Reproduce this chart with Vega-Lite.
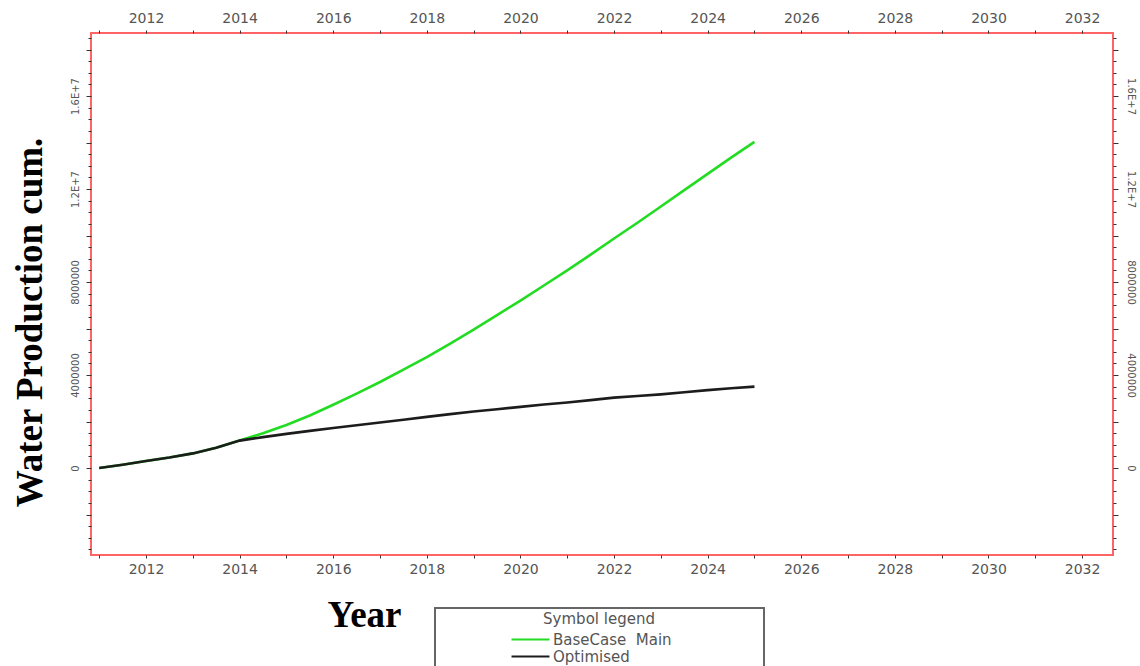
{
  "$schema": "https://vega.github.io/schema/vega-lite/v6.json",
  "autosize": {"type": "none"},
  "padding": {"left": 91, "top": 33, "right": 27, "bottom": 111},
  "width": 1022,
  "height": 522,
  "background": "white",
  "config": {
    "view": {"stroke": "#ff6464", "strokeWidth": 2},
    "axis": {"grid": false, "domain": false, "tickColor": "#333333", "tickWidth": 1, "labelColor": "#555555", "labelFont": "DejaVu Sans", "labelOverlap": false, "labelFlush": false}
  },
  "data": {
    "values": [
      {"year": 2011.0, "wpt": 0, "series": "BaseCase\u00a0 Main"},
      {"year": 2011.5, "wpt": 140000, "series": "BaseCase\u00a0 Main"},
      {"year": 2012.0, "wpt": 300000, "series": "BaseCase\u00a0 Main"},
      {"year": 2012.5, "wpt": 450000, "series": "BaseCase\u00a0 Main"},
      {"year": 2013.0, "wpt": 630000, "series": "BaseCase\u00a0 Main"},
      {"year": 2013.5, "wpt": 870000, "series": "BaseCase\u00a0 Main"},
      {"year": 2014.0, "wpt": 1180000, "series": "BaseCase\u00a0 Main"},
      {"year": 2014.5, "wpt": 1500000, "series": "BaseCase\u00a0 Main"},
      {"year": 2015.0, "wpt": 1850000, "series": "BaseCase\u00a0 Main"},
      {"year": 2015.5, "wpt": 2260000, "series": "BaseCase\u00a0 Main"},
      {"year": 2016.0, "wpt": 2720000, "series": "BaseCase\u00a0 Main"},
      {"year": 2016.5, "wpt": 3200000, "series": "BaseCase\u00a0 Main"},
      {"year": 2017.0, "wpt": 3700000, "series": "BaseCase\u00a0 Main"},
      {"year": 2017.5, "wpt": 4230000, "series": "BaseCase\u00a0 Main"},
      {"year": 2018.0, "wpt": 4770000, "series": "BaseCase\u00a0 Main"},
      {"year": 2018.5, "wpt": 5350000, "series": "BaseCase\u00a0 Main"},
      {"year": 2019.0, "wpt": 5950000, "series": "BaseCase\u00a0 Main"},
      {"year": 2019.5, "wpt": 6580000, "series": "BaseCase\u00a0 Main"},
      {"year": 2020.0, "wpt": 7200000, "series": "BaseCase\u00a0 Main"},
      {"year": 2020.5, "wpt": 7850000, "series": "BaseCase\u00a0 Main"},
      {"year": 2021.0, "wpt": 8500000, "series": "BaseCase\u00a0 Main"},
      {"year": 2021.5, "wpt": 9180000, "series": "BaseCase\u00a0 Main"},
      {"year": 2022.0, "wpt": 9870000, "series": "BaseCase\u00a0 Main"},
      {"year": 2022.5, "wpt": 10550000, "series": "BaseCase\u00a0 Main"},
      {"year": 2023.0, "wpt": 11250000, "series": "BaseCase\u00a0 Main"},
      {"year": 2023.5, "wpt": 11950000, "series": "BaseCase\u00a0 Main"},
      {"year": 2024.0, "wpt": 12650000, "series": "BaseCase\u00a0 Main"},
      {"year": 2024.5, "wpt": 13350000, "series": "BaseCase\u00a0 Main"},
      {"year": 2025.0, "wpt": 14030000, "series": "BaseCase\u00a0 Main"},
      {"year": 2011.0, "wpt": 0, "series": "Optimised"},
      {"year": 2011.5, "wpt": 140000, "series": "Optimised"},
      {"year": 2012.0, "wpt": 300000, "series": "Optimised"},
      {"year": 2012.5, "wpt": 450000, "series": "Optimised"},
      {"year": 2013.0, "wpt": 630000, "series": "Optimised"},
      {"year": 2013.5, "wpt": 870000, "series": "Optimised"},
      {"year": 2014.0, "wpt": 1180000, "series": "Optimised"},
      {"year": 2014.5, "wpt": 1330000, "series": "Optimised"},
      {"year": 2015.0, "wpt": 1470000, "series": "Optimised"},
      {"year": 2015.5, "wpt": 1600000, "series": "Optimised"},
      {"year": 2016.0, "wpt": 1720000, "series": "Optimised"},
      {"year": 2016.5, "wpt": 1840000, "series": "Optimised"},
      {"year": 2017.0, "wpt": 1960000, "series": "Optimised"},
      {"year": 2017.5, "wpt": 2080000, "series": "Optimised"},
      {"year": 2018.0, "wpt": 2200000, "series": "Optimised"},
      {"year": 2018.5, "wpt": 2320000, "series": "Optimised"},
      {"year": 2019.0, "wpt": 2430000, "series": "Optimised"},
      {"year": 2019.5, "wpt": 2530000, "series": "Optimised"},
      {"year": 2020.0, "wpt": 2630000, "series": "Optimised"},
      {"year": 2020.5, "wpt": 2730000, "series": "Optimised"},
      {"year": 2021.0, "wpt": 2820000, "series": "Optimised"},
      {"year": 2021.5, "wpt": 2920000, "series": "Optimised"},
      {"year": 2022.0, "wpt": 3030000, "series": "Optimised"},
      {"year": 2022.5, "wpt": 3100000, "series": "Optimised"},
      {"year": 2023.0, "wpt": 3170000, "series": "Optimised"},
      {"year": 2023.5, "wpt": 3260000, "series": "Optimised"},
      {"year": 2024.0, "wpt": 3350000, "series": "Optimised"},
      {"year": 2024.5, "wpt": 3430000, "series": "Optimised"},
      {"year": 2025.0, "wpt": 3500000, "series": "Optimised"}
    ]
  },
  "resolve": {"axis": {"x": "independent", "y": "independent"}},
  "layer": [
    {
      "transform": [{"filter": "datum.series != 'Optimised'"}],
      "mark": {"type": "line", "strokeWidth": 2.6, "interpolate": "linear"},
      "encoding": {
        "x": {
          "field": "year", "type": "quantitative",
          "scale": {"domain": [2010.825, 2032.66], "nice": false, "zero": false},
          "axis": {
            "orient": "bottom",
            "values": [2011, 2012, 2013, 2014, 2015, 2016, 2017, 2018, 2019, 2020, 2021, 2022, 2023, 2024, 2025, 2026, 2027, 2028, 2029, 2030, 2031, 2032],
            "labelExpr": "datum.value % 2 == 0 ? format(datum.value, 'd') : ''",
            "tickSize": 3, "labelPadding": 4, "labelFontSize": 14,
            "title": "Year", "titleFont": "Liberation Serif", "titleFontSize": 37, "titleFontWeight": "bold", "titleColor": "#000000",
            "titleX": 273, "titleY": 71, "titleAlign": "center", "titleBaseline": "alphabetic", "titleAnchor": null
          }
        },
        "y": {
          "field": "wpt", "type": "quantitative",
          "scale": {"domain": [-3740000, 18710000], "nice": false, "zero": false},
          "axis": {
            "orient": "left",
            "values": [-3500000, -3000000, -2500000, -2000000, -1500000, -1000000, -500000, 0, 500000, 1000000, 1500000, 2000000, 2500000, 3000000, 3500000, 4000000, 4500000, 5000000, 5500000, 6000000, 6500000, 7000000, 7500000, 8000000, 8500000, 9000000, 9500000, 10000000, 10500000, 11000000, 11500000, 12000000, 12500000, 13000000, 13500000, 14000000, 14500000, 15000000, 15500000, 16000000, 16500000, 17000000, 17500000, 18000000, 18500000],
            "labelExpr": "datum.value == 0 ? '0' : datum.value == 4000000 ? '4000000' : datum.value == 8000000 ? '8000000' : datum.value == 12000000 ? '1.2E+7' : datum.value == 16000000 ? '1.6E+7' : ''",
            "tickSize": {"condition": {"test": "datum.value % 2000000 == 0", "value": 5}, "value": 3},
            "labelAngle": 270, "labelAlign": "center", "labelBaseline": "bottom", "labelPadding": 6, "labelFontSize": 10,
            "title": "Water Production cum.", "titleFont": "Liberation Serif", "titleFontSize": 37, "titleFontWeight": "bold", "titleColor": "#000000",
            "titleX": -61, "titleY": 289, "titleAngle": 270, "titleAlign": "center", "titleBaseline": "middle", "titleAnchor": null
          }
        },
        "color": {
          "field": "series", "type": "nominal",
          "scale": {"domain": ["BaseCase\u00a0 Main", "Optimised"], "range": ["#22dc22", "#1c1c1c"]},
          "legend": {
            "orient": "none", "legendX": 344, "legendY": 575,
            "title": "Symbol legend", "titleFont": "DejaVu Sans", "titleFontSize": 15, "titleFontWeight": "normal", "titleColor": "#555555", "titleAnchor": "middle", "titlePadding": 5,
            "labelFont": "DejaVu Sans", "labelFontSize": 15, "labelColor": "#555555", "labelOffset": 15,
            "symbolType": "M-4,0H4M47.5,0", "symbolSize": 90, "symbolStrokeWidth": 2, "symbolOffset": 84,
            "rowPadding": 1, "padding": 4,
            "strokeColor": "#666666", "fillColor": "#ffffff",
            "encode": {"legend": {"update": {"strokeWidth": {"value": 2}}}}
          }
        }
      }
    },
    {
      "transform": [{"filter": "datum.series == 'Optimised'"}],
      "mark": {"type": "line", "strokeWidth": 2.6, "interpolate": "linear"},
      "encoding": {
        "x": {
          "field": "year", "type": "quantitative",
          "axis": {
            "orient": "top",
            "values": [2011, 2012, 2013, 2014, 2015, 2016, 2017, 2018, 2019, 2020, 2021, 2022, 2023, 2024, 2025, 2026, 2027, 2028, 2029, 2030, 2031, 2032],
            "labelExpr": "datum.value % 2 == 0 ? format(datum.value, 'd') : ''",
            "tickSize": 3, "labelPadding": 5, "labelFontSize": 14, "title": null
          }
        },
        "y": {
          "field": "wpt", "type": "quantitative",
          "axis": {
            "orient": "right",
            "values": [-3500000, -3000000, -2500000, -2000000, -1500000, -1000000, -500000, 0, 500000, 1000000, 1500000, 2000000, 2500000, 3000000, 3500000, 4000000, 4500000, 5000000, 5500000, 6000000, 6500000, 7000000, 7500000, 8000000, 8500000, 9000000, 9500000, 10000000, 10500000, 11000000, 11500000, 12000000, 12500000, 13000000, 13500000, 14000000, 14500000, 15000000, 15500000, 16000000, 16500000, 17000000, 17500000, 18000000, 18500000],
            "labelExpr": "datum.value == 0 ? '0' : datum.value == 4000000 ? '4000000' : datum.value == 8000000 ? '8000000' : datum.value == 12000000 ? '1.2E+7' : datum.value == 16000000 ? '1.6E+7' : ''",
            "tickSize": {"condition": {"test": "datum.value % 2000000 == 0", "value": 5}, "value": 3},
            "labelAngle": 90, "labelAlign": "center", "labelBaseline": "bottom", "labelPadding": 7, "labelFontSize": 10,
            "title": null
          }
        },
        "color": {"field": "series", "type": "nominal"}
      }
    }
  ]
}
